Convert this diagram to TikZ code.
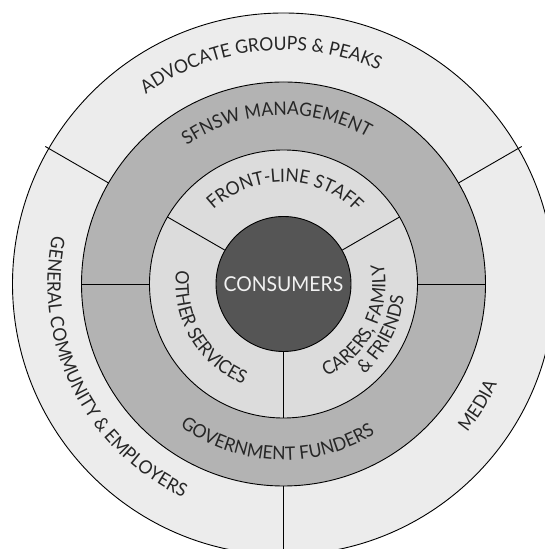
\documentclass[tikz,border=0pt]{standalone}
\usepackage{fontspec}
\setmainfont{Lato}
\newfontfamily\ringfam{Lato}[FakeStretch=0.945]
\usetikzlibrary{decorations.text}

\definecolor{ringouter}{HTML}{ECECEC}
\definecolor{ringmid}{HTML}{B3B3B3}
\definecolor{ringinner}{HTML}{DCDCDC}
\definecolor{corefill}{HTML}{555555}
\definecolor{labelink}{HTML}{262626}
\definecolor{coreink}{HTML}{F2F2F2}

\newcommand\ringfont{\ringfam\fontsize{18.5}{22}\selectfont}

\tikzset{
  ring/.style={draw=black, line width=0.9pt},
  spoke/.style={draw=black, line width=0.9pt},
  ringtext/.style={decorate, decoration={text along path, text align=center, text color=labelink}},
}

\begin{document}
\begin{tikzpicture}[x=1pt, y=1pt]
\useasboundingbox (0,0) rectangle (545,549);
\clip (0,0) rectangle (545,549);
\coordinate (c) at (283.5,265);

% rings, outside in
\path[ring, fill=ringouter] (c) circle[radius=271];
\path[ring, fill=ringmid]   (c) circle[radius=202];
\path[ring, fill=ringinner] (c) circle[radius=134];

% spokes of the outer ring
\foreach \a in {30,150,270}
  \draw[spoke] ([shift={(\a:202)}]c) -- ([shift={(\a:275)}]c);
% spokes of the middle ring
\foreach \a in {0,180}
  \draw[spoke] ([shift={(\a:134)}]c) -- ([shift={(\a:202)}]c);

% centre
\node[circle, ring, fill=corefill, minimum size=135pt, inner sep=0pt,
      text=coreink, font=\ringfam\fontsize{20.5}{24}\selectfont] (core) at (c) {CONSUMERS};

% spokes of the inner ring
\foreach \a in {30,150,270}
  \draw[spoke] (core.\a) -- ([shift={(\a:134)}]c);

% labels on the upper arcs (clockwise)
\path[ringtext, decoration={text={|\ringfont|ADVOCATE GROUPS {\&} PEAKS}}]
  ([shift={(156:234)}]c) arc[start angle=156, end angle=36, radius=234];
\path[ringtext, decoration={text={|\ringfont|SFNSW MANAGEMENT}}]
  ([shift={(152.5:169)}]c) arc[start angle=152.5, end angle=32.5, radius=169];
\path[ringtext, decoration={text={|\ringfont|FRONT-LINE STAFF}}]
  ([shift={(149:102)}]c) arc[start angle=149, end angle=29, radius=102];

% labels on the lower arcs (anticlockwise)
\path[ringtext, decoration={text={|\ringfont|OTHER SERVICES}}]
  ([shift={(150.5:108)}]c) arc[start angle=150.5, end angle=270.5, radius=108];
\path[ringtext, decoration={text={|\ringfont|CARERS, FAMILY}}]
  ([shift={(-87:102)}]c) arc[start angle=-87, end angle=33, radius=102];
\path[ringtext, decoration={text={|\ringfont|{\&} FRIENDS}}]
  ([shift={(-87:121)}]c) arc[start angle=-87, end angle=33, radius=121];
\path[ringtext, decoration={text={|\ringfont|GOVERNMENT FUNDERS}}]
  ([shift={(207.7:176)}]c) arc[start angle=207.7, end angle=327.7, radius=176];
\path[ringtext, decoration={text={|\ringfont|GENERAL COMMUNITY {\&} EMPLOYERS}}]
  ([shift={(146.5:236)}]c) arc[start angle=146.5, end angle=266.5, radius=236];
\path[ringtext, decoration={text={|\ringfont|MEDIA}}]
  ([shift={(-92:236)}]c) arc[start angle=-92, end angle=28, radius=236];
\end{tikzpicture}
\end{document}
